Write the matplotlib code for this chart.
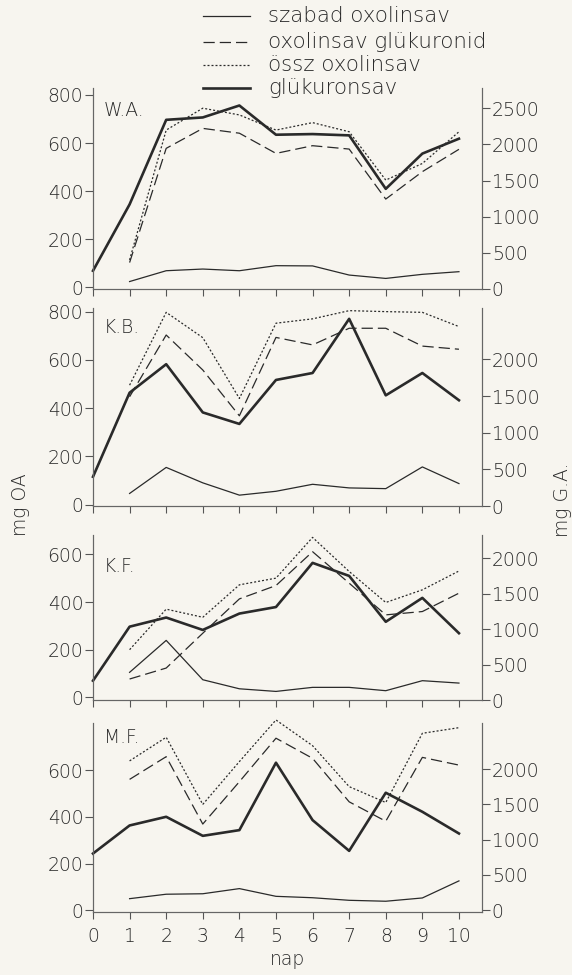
import matplotlib
matplotlib.use("Agg")
import matplotlib.pyplot as plt
from matplotlib.lines import Line2D

# days
days = list(range(0, 11))
days_oa = list(range(1, 11))

# W.A.
wa_szabad = [24, 69, 76, 69, 90, 89, 51, 37, 54, 65]
wa_glukuronid = [103, 578, 661, 641, 557, 589, 575, 367, 481, 574]
wa_ossz = [114, 654, 745, 717, 654, 685, 647, 446, 515, 647]
wa_glukuronsav = [252, 1170, 2339, 2372, 2537, 2133, 2142, 2124, 1385, 1872, 2078]

# K.B.
kb_szabad = [46, 154, 90, 39, 55, 84, 69, 66, 156, 87]
kb_glukuronid = [447, 703, 558, 368, 693, 662, 731, 731, 657, 644]
kb_ossz = [495, 797, 692, 440, 752, 770, 804, 800, 797, 738]
kb_glukuronsav = [399, 1546, 1935, 1277, 1120, 1720, 1815, 2554, 1510, 1815, 1443]

# K.F.
kf_szabad = [105, 239, 74, 36, 25, 42, 42, 28, 70, 60]
kf_glukuronid = [77, 123, 269, 413, 469, 611, 479, 346, 360, 437]
kf_ossz = [200, 370, 336, 472, 500, 671, 528, 398, 451, 530]
kf_glukuronsav = [272, 1034, 1163, 988, 1219, 1311, 1934, 1750, 1103, 1440, 942]

# M.F.
mf_szabad = [50, 69, 71, 93, 60, 54, 43, 39, 53, 126]
mf_glukuronid = [560, 657, 369, 550, 736, 650, 464, 381, 654, 621]
mf_ossz = [639, 740, 453, 636, 814, 704, 529, 461, 757, 781]
mf_glukuronsav = [802, 1200, 1323, 1053, 1134, 2090, 1276, 840, 1664, 1394, 1086]

panel_names = ["W.A.", "K.B.", "K.F.", "M.F."]
left_ticks = [[0, 200, 400, 600, 800], [0, 200, 400, 600, 800],
              [0, 200, 400, 600], [0, 200, 400, 600]]
right_ticks = [[0, 500, 1000, 1500, 2000, 2500], [0, 500, 1000, 1500, 2000],
               [0, 500, 1000, 1500, 2000], [0, 500, 1000, 1500, 2000]]
legend_labels = ["szabad oxolinsav", "oxolinsav glükuronid",
                 "össz oxolinsav", "glükuronsav"]

panels = [
    (wa_szabad, wa_glukuronid, wa_ossz, wa_glukuronsav),
    (kb_szabad, kb_glukuronid, kb_ossz, kb_glukuronsav),
    (kf_szabad, kf_glukuronid, kf_ossz, kf_glukuronsav),
    (mf_szabad, mf_glukuronid, mf_ossz, mf_glukuronsav),
]

# layout in pixels (top, bottom) and y limits
W, H = 572, 975
boxes = [(88, 289), (308, 506), (535, 700), (723, 912)]
left_lims = [(-7, 829), (-6, 815), (-11, 681), (-7, 801)]
right_lims = [(14, 2779), (44, 2702), (42, 2327), (-27, 2653)]
name_y = [0.89, 0.90, 0.81, 0.925]

ink = "#2a2a2a"
bg = "#f7f5ef"
plt.rcParams["font.family"] = ["DejaVu Sans"]
plt.rcParams["font.weight"] = "light"
plt.rcParams["axes.labelweight"] = "light"
plt.rcParams["text.color"] = ink

fig = plt.figure(figsize=(W / 100, H / 100), dpi=100, facecolor=bg)

x_left, x_right = 93, 482
tick_fs = 13.5

styles = [dict(lw=0.9, linestyle="-"),
          dict(lw=0.9, linestyle=(0, (9, 4))),
          dict(lw=0.9, linestyle=(0, (1.6, 1.6))),
          dict(lw=1.9, linestyle="-")]

for i, (szabad, glukuronid, ossz, glukuronsav) in enumerate(panels):
    top, bottom = boxes[i]
    ax = fig.add_axes([x_left / W, 1 - bottom / H, (x_right - x_left) / W, (bottom - top) / H])
    ax.set_facecolor("none")
    ax2 = ax.twinx()

    ax.plot(days_oa, szabad, color=ink, clip_on=False, **styles[0])
    ax.plot(days_oa, glukuronid, color=ink, clip_on=False, **styles[1])
    ax.plot(days_oa, ossz, color=ink, clip_on=False, **styles[2])
    ax2.plot(days, glukuronsav, color=ink, clip_on=False, **styles[3])

    ax.set_xlim(0, 10.63)
    ax.set_ylim(*left_lims[i])
    ax2.set_ylim(*right_lims[i])
    ax.set_yticks(left_ticks[i])
    ax2.set_yticks(right_ticks[i])
    ax.set_xticks(days)

    for a in (ax, ax2):
        a.spines["top"].set_visible(False)
        for s in a.spines.values():
            s.set_color("#666666")
            s.set_linewidth(0.8)
        a.tick_params(colors="#555555", labelcolor=ink, labelsize=tick_fs,
                      length=6, width=0.8, pad=1)
    ax.tick_params(axis="x", direction="out", length=5, pad=6)
    if i < 3:
        ax.tick_params(axis="x", labelbottom=False)
    else:
        ax.set_xlabel("nap", fontsize=tick_fs, color=ink, labelpad=3, fontweight="light")

    ax.text(0.027, name_y[i], panel_names[i], transform=ax.transAxes,
            fontsize=13.5, color=ink, va="center", ha="left")

# legend at top, drawn by hand
leg_rows = [16, 41.5, 65, 88]
for y, st, lab in zip(leg_rows, styles, legend_labels):
    fig.add_artist(Line2D([203 / W, 250 / W], [1 - y / H, 1 - y / H],
                          transform=fig.transFigure, color=ink, **st))
    fig.text(268 / W, 1 - y / H, lab, fontsize=15.4, va="center", ha="left", color=ink)

fig.text(20 / W, 1 - 505 / H, "mg OA", rotation=90, fontsize=tick_fs, ha="center", va="center")
fig.text(563 / W, 1 - 500 / H, "mg G.A.", rotation=90, fontsize=tick_fs, ha="center", va="center")

fig.savefig("out.png", dpi=100, facecolor=bg)
